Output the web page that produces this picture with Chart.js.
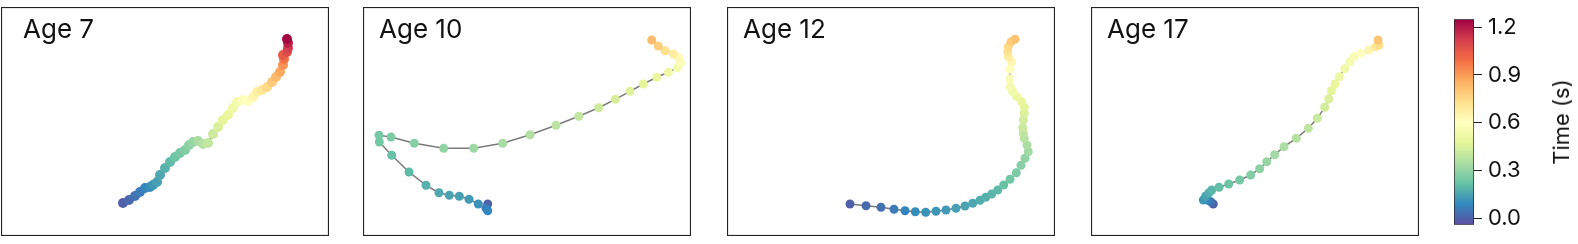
<!DOCTYPE html>
<html>
<head>
<meta charset="utf-8">
<script src="https://cdn.jsdelivr.net/npm/chart.js@4.4.1/dist/chart.umd.min.js"></script>
<style>
  body { margin: 0; background: #fff; width: 1578px; height: 244px; overflow: hidden; position: relative; font-family: Inter, "Noto Sans", sans-serif; }
  .panel { position: absolute; top: 7px; line-height: 0; }
  .age { position: absolute; font-size: 26px; line-height: 26px; color: #111; white-space: nowrap; }
  #cbarTitle { position: absolute; left: 1561px; top: 122px; font-size: 22px; color: #111; white-space: nowrap; transform: translate(-50%, -50%) rotate(-90deg); }
</style>
</head>
<body>
<div class="panel" style="left:1px"><canvas id="p0" width="328" height="229"></canvas></div>
<div class="panel" style="left:363px"><canvas id="p1" width="328" height="229"></canvas></div>
<div class="panel" style="left:727px"><canvas id="p2" width="328" height="229"></canvas></div>
<div class="panel" style="left:1091px"><canvas id="p3" width="328" height="229"></canvas></div>
<div style="position:absolute; left:1454px; top:0; line-height:0"><canvas id="cbar" width="124" height="244"></canvas></div>
<div class="age" style="left:23px; top:16px">Age 7</div>
<div class="age" style="left:379px; top:16px">Age 10</div>
<div class="age" style="left:743px; top:16px">Age 12</div>
<div class="age" style="left:1107px; top:16px">Age 17</div>
<div id="cbarTitle">Time (s)</div>
<script>
// Trajectories (panel units, y up), with time of each sample in seconds
const age7X = [122, 128, 134, 139, 144, 149, 152, 156, 159, 164, 169, 174, 179, 184, 188, 192, 197, 202, 207, 212, 217, 222, 227, 232, 236, 242, 247, 252, 256, 261, 266, 271, 275, 279, 282, 283, 282, 286, 287, 287, 286];
const age7Y = [33, 36, 40, 44, 48, 49, 51, 54, 61, 68, 74, 79, 83, 86, 91, 94, 95, 92, 93, 102, 109, 116, 121, 128, 134, 136, 135, 139, 144, 146, 149, 154, 159, 164, 171, 177, 181, 184, 188, 193, 197];
const age7T = [0.00, 0.02, 0.04, 0.06, 0.08, 0.10, 0.12, 0.14, 0.16, 0.18, 0.20, 0.23, 0.25, 0.27, 0.29, 0.31, 0.34, 0.37, 0.40, 0.42, 0.45, 0.48, 0.50, 0.53, 0.55, 0.58, 0.61, 0.64, 0.67, 0.71, 0.75, 0.79, 0.83, 0.87, 0.92, 0.98, 1.04, 1.08, 1.12, 1.18, 1.24];

const age10X = [124.7, 123, 124.7, 115.3, 106, 96.3, 86.3, 76, 63, 46, 28.7, 16.3, 16, 28, 51.3, 80.7, 110.7, 139.7, 167, 193, 215.7, 235.7, 252.3, 267, 280.3, 293.7, 305.3, 314.3, 317.5, 315.5, 310.3, 302, 295.3, 288.7];
const age10Y = [32, 27.7, 25.3, 32, 36.7, 39.7, 40.7, 43.3, 50.7, 64, 80.7, 94, 100.7, 99, 92.7, 87.7, 87.7, 92.7, 101.3, 110.7, 119.7, 128.3, 136.7, 144.7, 152, 158.7, 163.7, 168.3, 173, 178.5, 182, 185.3, 190, 196];
const age10T = [0.00, 0.06, 0.09, 0.11, 0.13, 0.14, 0.15, 0.16, 0.18, 0.20, 0.22, 0.24, 0.25, 0.26, 0.28, 0.30, 0.32, 0.34, 0.36, 0.38, 0.40, 0.42, 0.44, 0.46, 0.48, 0.50, 0.52, 0.54, 0.58, 0.63, 0.68, 0.73, 0.78, 0.83];

const age12X = [123, 139, 154, 167, 178, 188.3, 198.7, 209, 219, 229, 238, 245.7, 253, 258.7, 264.7, 270.7, 276.7, 283, 289.3, 294, 298, 301.3, 300, 297.3, 296.3, 295.7, 296.3, 297.3, 297.3, 294.7, 289.7, 285.7, 283.3, 282.7, 283, 284.7, 281.3, 280.7, 281.3, 284, 288];
const age12Y = [32, 30.3, 28.7, 26.7, 25.3, 24.3, 23.7, 24.7, 26, 27.7, 30, 32.7, 35.7, 38.7, 42, 46, 51, 56.7, 63.3, 70.7, 77.7, 84.3, 91, 97.7, 102.7, 108.3, 116, 122.7, 128.7, 134.3, 139.3, 144.3, 149.3, 157, 166.7, 174.3, 179.3, 184.3, 189.3, 194.3, 196.7];
const age12T = [0.00, 0.02, 0.04, 0.06, 0.08, 0.10, 0.11, 0.12, 0.13, 0.14, 0.15, 0.16, 0.17, 0.18, 0.19, 0.20, 0.22, 0.24, 0.26, 0.28, 0.30, 0.33, 0.35, 0.37, 0.39, 0.41, 0.43, 0.45, 0.47, 0.49, 0.51, 0.53, 0.55, 0.57, 0.60, 0.64, 0.68, 0.72, 0.75, 0.78, 0.81];

const age17X = [122.3, 119.7, 116.3, 112.3, 114.7, 118, 120.7, 128, 137.7, 148.7, 159.7, 168.7, 175.7, 183.7, 193, 205.3, 217.3, 226.3, 233.7, 237.7, 240.3, 244, 248.3, 253.7, 258.7, 263, 269.7, 278, 284.7, 288, 287];
const age17Y = [32, 34.3, 36, 36, 40, 43.3, 46, 48.7, 52, 56, 61, 67.3, 74.3, 81.3, 89.3, 97.7, 107.7, 117.7, 128.7, 137, 145.3, 152, 159.3, 167.3, 174, 179.3, 182.7, 186, 189.3, 191, 196];
const age17T = [0.00, 0.04, 0.08, 0.12, 0.15, 0.17, 0.19, 0.21, 0.23, 0.25, 0.27, 0.29, 0.31, 0.33, 0.35, 0.37, 0.39, 0.41, 0.43, 0.45, 0.47, 0.49, 0.51, 0.53, 0.55, 0.57, 0.60, 0.64, 0.70, 0.74, 0.80];

// Colour bar
const timeMin = -0.04;
const timeMax = 1.25;
const cbarTicks = [0.0, 0.3, 0.6, 0.9, 1.2];

// Spectral_r colormap stops
const spectral = ['#5e4fa2', '#3288bd', '#66c2a5', '#abdda4', '#e6f598', '#ffffbf', '#fee08b', '#fdae61', '#f46d43', '#d53e4f', '#9e0142'];

function hexToRgb(h) {
    return [parseInt(h.slice(1, 3), 16), parseInt(h.slice(3, 5), 16), parseInt(h.slice(5, 7), 16)];
}

function timeColor(t) {
    let v = (t - timeMin) / (timeMax - timeMin);
    v = Math.max(0, Math.min(1, v)) * (spectral.length - 1);
    const i = Math.min(Math.floor(v), spectral.length - 2);
    const f = v - i;
    const a = hexToRgb(spectral[i]), b = hexToRgb(spectral[i + 1]);
    const c = a.map((x, k) => Math.round(x + (b[k] - x) * f));
    return `rgb(${c[0]},${c[1]},${c[2]})`;
}

// Frame round each plot area
const framePlugin = {
    id: 'frame',
    afterDraw(chart) {
        const a = chart.chartArea;
        const ctx = chart.ctx;
        ctx.save();
        ctx.strokeStyle = '#222';
        ctx.lineWidth = 1.2;
        ctx.strokeRect(a.left + 0.5, a.top + 0.5, a.right - a.left - 1, a.bottom - a.top - 1);
        ctx.restore();
    }
};

function makePanel(id, xs, ys, ts, radius) {
    const pts = xs.map((x, i) => ({x: x, y: ys[i]}));
    new Chart(document.getElementById(id), {
        type: 'scatter',
        data: {
            datasets: [{
                data: pts,
                showLine: true,
                borderColor: '#7a7a7a',
                borderWidth: 1.5,
                pointRadius: radius,
                pointBorderWidth: 0,
                pointBackgroundColor: ts.map(timeColor)
            }]
        },
        options: {
            responsive: false,
            animation: false,
            layout: {padding: 0, autoPadding: false},
            scales: {
                x: {display: false, min: 0, max: 328},
                y: {display: false, min: 0, max: 229}
            },
            plugins: {legend: {display: false}, tooltip: {enabled: false}}
        },
        plugins: [framePlugin]
    });
}

makePanel('p0', age7X, age7Y, age7T, 5);
makePanel('p1', age10X, age10Y, age10T, 4.5);
makePanel('p2', age12X, age12Y, age12T, 4.5);
makePanel('p3', age17X, age17Y, age17T, 4.5);

// Colour bar: one floating bar filled with the colormap
new Chart(document.getElementById('cbar'), {
    type: 'bar',
    data: {
        labels: [''],
        datasets: [{
            data: [[timeMin, timeMax]],
            borderColor: '#222',
            borderWidth: 1,
            borderSkipped: false,
            barPercentage: 1,
            categoryPercentage: 1,
            backgroundColor: function(context) {
                const chart = context.chart;
                const yScale = chart.scales.y;
                if (!chart.chartArea || !yScale) return spectral[5];
                const g = chart.ctx.createLinearGradient(0, yScale.getPixelForValue(timeMin), 0, yScale.getPixelForValue(timeMax));
                spectral.forEach((c, i) => g.addColorStop(i / (spectral.length - 1), c));
                return g;
            }
        }]
    },
    options: {
        responsive: false,
        animation: false,
        layout: {padding: {top: 7, bottom: 8, left: 0, right: 0}, autoPadding: false},
        scales: {
            x: {display: false},
            y: {
                position: 'right',
                min: timeMin,
                max: timeMax,
                afterFit: (s) => { s.width = 104; },
                afterBuildTicks: (s) => { s.ticks = cbarTicks.map(v => ({value: v})); },
                grid: {drawOnChartArea: false, tickLength: 8, color: '#222', tickWidth: 1},
                border: {display: false},
                ticks: {
                    padding: 6,
                    color: '#111',
                    font: {family: 'Inter', size: 22},
                    callback: (v) => Number(v).toFixed(1)
                }
            }
        },
        plugins: {legend: {display: false}, tooltip: {enabled: false}}
    }
});
</script>
</body>
</html>
